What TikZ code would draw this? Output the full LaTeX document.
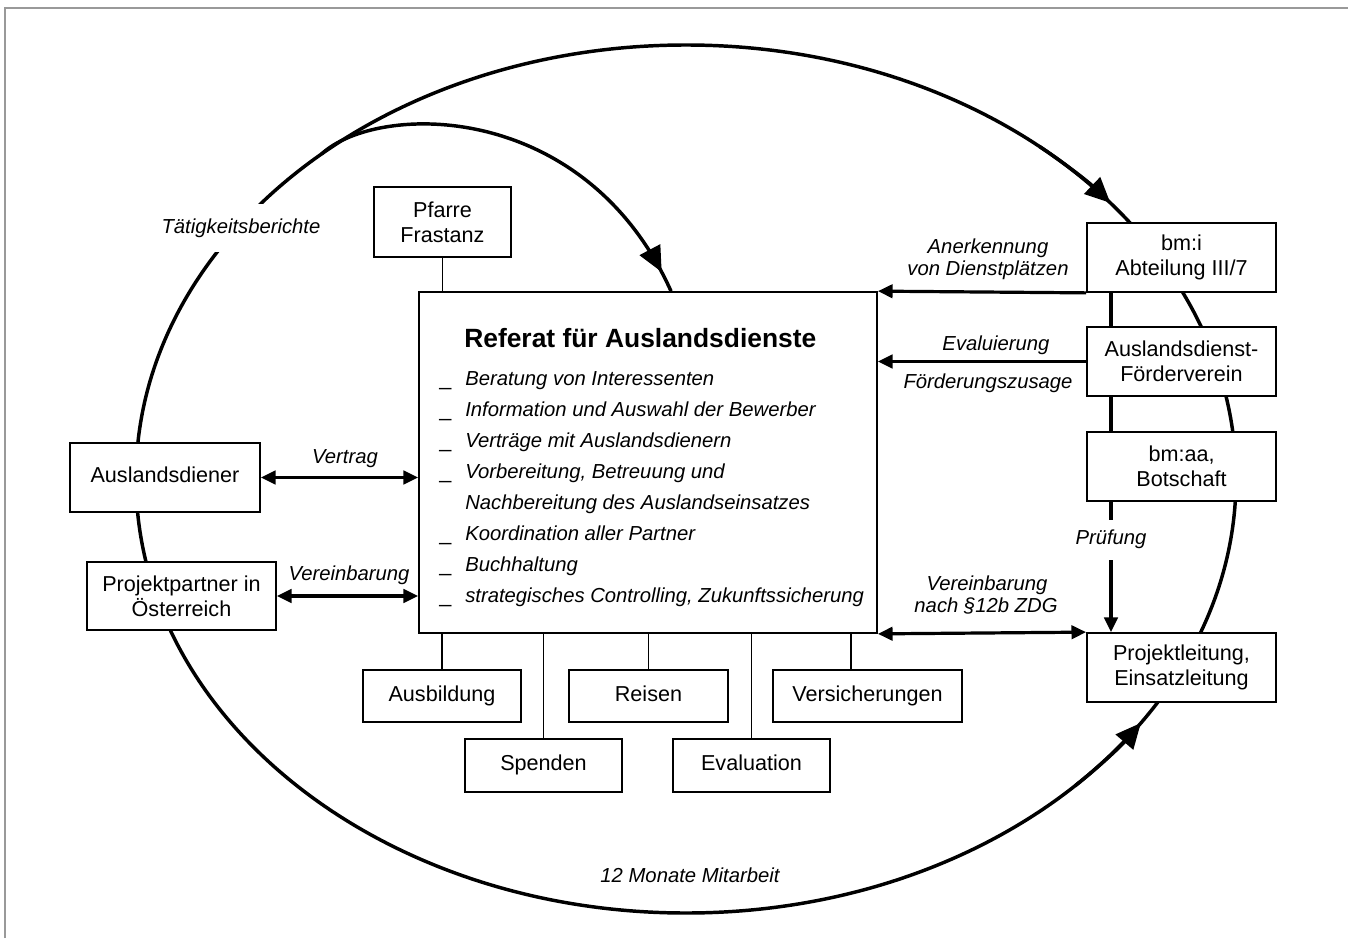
\documentclass[tikz,border=0pt]{standalone}
\usepackage{fontspec}
\setmainfont{Liberation Sans}
\usetikzlibrary{arrows.meta,decorations.markings,calc}

\newcommand{\boxfont}{\fontsize{16.2}{18.8}\selectfont}
\newcommand{\lblfont}{\fontsize{15.2}{17}\selectfont\itshape}
\newcommand{\titlefont}{\fontsize{19.8}{22}\selectfont\bfseries}

\tikzset{
  box/.style 2 args={draw, line width=1.3pt, fill=white, align=center, inner sep=0pt,
    minimum width=#1, minimum height=#2, font=\boxfont},
  single/.style={text height=11.6pt, text depth=3.4pt},
  lbl/.style={font=\lblfont, inner sep=0pt, anchor=base},
  duty/.style={font=\lblfont, inner sep=0pt, anchor=base west},
  bulletmark/.style={font=\boxfont, inner sep=0pt, anchor=base west},
  arr/.style={line width=2.4pt, -{Triangle[length=11pt,width=10pt]}},
  darr/.style={line width=2.4pt, {Triangle[length=11pt,width=10pt]}-{Triangle[length=11pt,width=10pt]}},
  link/.style={line width=1.4pt},
  stem/.style={line width=2.4pt},
  ring/.style={line width=2.6pt},
  bigtip/.style={line width=2.6pt, -{Triangle[length=19pt,width=17pt]}},
}

\begin{document}
\begin{tikzpicture}[x=0.75pt,y=0.75pt,yscale=-1,xscale=1]
\useasboundingbox (0,0) rectangle (1348,938);

% Frame
\draw[black!40, line width=0.8pt] (5,938) -- (5,8) -- (1348,8);

% Ring
\coordinate (mid) at (686,479);
\coordinate (colx) at (1111,0);
\draw[ring] (mid) ellipse [x radius=550, y radius=434];

% Text Node
\node[box={102.75pt}{52.5pt}] (pfarre) at (442.5,222) {Pfarre\\Frastanz};
% Text Node
\node[box={343.5pt}{255.75pt}] (referat) at (648,462.5) {};
% Text Node
\node[box={142.5pt}{51.75pt}, single] (ausl) at (165,477.5) {Auslandsdiener};
% Text Node
\node[box={141.75pt}{51pt}] (partner) at (181.5,596) {Projektpartner in\\Österreich};
% Text Node
\node[box={141.75pt}{51.75pt}] (bmi) at (1181.5,257.5) {bm:i\\Abteilung III/7};
% Text Node
\node[box={141.75pt}{51.75pt}] (verein) at (1181.5,361.5) {Auslandsdienst-\\Förderverein};
% Text Node
\node[box={141.75pt}{51.75pt}] (bmaa) at (1181.5,466.5) {bm:aa,\\Botschaft};
% Text Node
\node[box={141.75pt}{51.75pt}] (leitung) at (1181.5,667.5) {Projektleitung,\\Einsatzleitung};
% Text Node
\node[box={118.5pt}{39pt}, single] (ausbildung) at (442,696) {Ausbildung};
% Text Node
\node[box={119.25pt}{39pt}, single] (reisen) at (648.5,696) {Reisen};
% Text Node
\node[box={141.75pt}{39pt}, single] (versich) at (867.5,696) {Versicherungen};
% Text Node
\node[box={117.75pt}{39.75pt}, single] (spenden) at (543.5,765.5) {Spenden};
% Text Node
\node[box={117.75pt}{39.75pt}, single] (evaluation) at (751.5,765.5) {Evaluation};

% Referat text
\node[anchor=base west, inner sep=0pt, font=\titlefont] (title) at (464,347) {Referat für Auslandsdienste};
\node[bulletmark] (b1) at (439,385) {\_};
\node[duty] (d1) at (465,385) {Beratung von Interessenten};
\node[bulletmark] (b2) at (439,416) {\_};
\node[duty] (d2) at (465,416) {Information und Auswahl der Bewerber};
\node[bulletmark] (b3) at (439,447) {\_};
\node[duty] (d3) at (465,447) {Verträge mit Auslandsdienern};
\node[bulletmark] (b4) at (439,478) {\_};
\node[duty] (d4) at (465,478) {Vorbereitung, Betreuung und};
\node[duty] (d5) at (465,509) {Nachbereitung des Auslandseinsatzes};
\node[bulletmark] (b6) at (439,540) {\_};
\node[duty] (d6) at (465,540) {Koordination aller Partner};
\node[bulletmark] (b7) at (439,571) {\_};
\node[duty] (d7) at (465,571) {Buchhaltung};
\node[bulletmark] (b8) at (439,602) {\_};
\node[duty] (d8) at (465,602) {strategisches Controlling, Zukunftssicherung};

% Connection
\draw[link] (pfarre.south) -- (pfarre.south |- referat.north);
\draw[link] (referat.south -| ausbildung.north) -- (ausbildung.north);
\draw[link] (referat.south -| spenden.north) -- (spenden.north);
\draw[link] (referat.south -| reisen.north) -- (reisen.north);
\draw[link] (referat.south -| evaluation.north) -- (evaluation.north);
\draw[link] (referat.south -| 851,0) -- (versich.north -| 851,0);

% Connection
\draw[stem] (bmi.south -| colx) -- (verein.north -| colx);
\draw[stem] (verein.south -| colx) -- (bmaa.north -| colx);
\draw[arr] (bmaa.south -| colx) -- node[pos=0.29, fill=white, font=\lblfont, inner xsep=2pt, inner ysep=8pt] (pruef) {Prüfung} (leitung.north -| colx);

% Connection
\draw[arr] (bmi.south west) -- (referat.north east);
\draw[arr] (verein.west) -- (verein.west -| referat.east);
\draw[darr] (referat.south east) -- (leitung.north west);
\draw[darr] (ausl.east) -- (ausl.east -| referat.west);
\draw[darr] (partner.east) -- (partner.east -| referat.west);

% Text Node
\node[lbl] (anerk) at (988,253) {Anerkennung};
\node[lbl] (dienst) at (988,275) {von Dienstplätzen};
\node[lbl] (evalu) at (996,350) {Evaluierung};
\node[lbl] (zusage) at (988,388) {Förderungszusage};
\node[lbl] (zdg1) at (987,590) {Vereinbarung};
\node[lbl] (zdg2) at (986,612) {nach §12b ZDG};
\node[lbl] (vertrag) at (345,463) {Vertrag};
\node[lbl] (vereinb) at (349,580) {Vereinbarung};
\node[lbl] (monate) at (690,882) {12 Monate Mitarbeit};
\node[lbl, fill=white, inner xsep=2pt, inner ysep=11pt] (taetig) at (241,233) {Tätigkeitsberichte};

% Ring arrows
\coordinate (split) at ($(mid)+(-131.5:550 and 434)$);
\draw[ring, postaction={decorate}, decoration={markings, mark=at position 0.95 with {\arrow{Triangle[length=19pt,width=17pt]}}}]
  (split) .. controls (378,102) and (585,100) .. (referat.north -| 671,0);
\draw[bigtip] ($(mid)+(-50:550 and 434)$) arc [start angle=-50, end angle=-39.5, x radius=550, y radius=434];
\draw[bigtip] ($(mid)+(45:550 and 434)$) arc [start angle=45, end angle=34.2, x radius=550, y radius=434];

\end{tikzpicture}
\end{document}
